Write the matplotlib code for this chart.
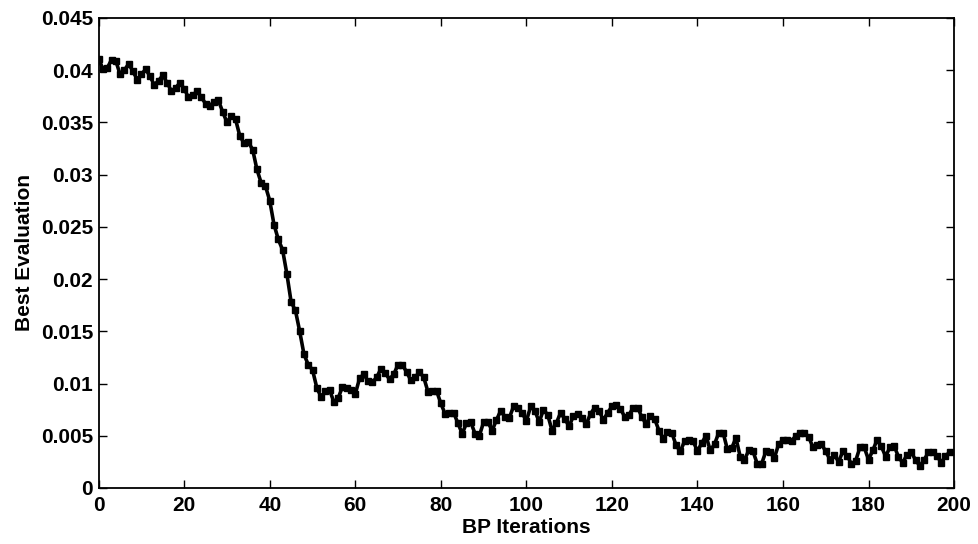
import matplotlib
matplotlib.use("Agg")
import matplotlib.pyplot as plt
from matplotlib.ticker import FormatStrFormatter, MultipleLocator

# best evaluation per BP iteration
best_eval = [
    0.0411, 0.0401, 0.0402, 0.0410, 0.0409, 0.0396, 0.0400, 0.0406, 0.0399, 0.0391,
    0.0396, 0.0401, 0.0394, 0.0386, 0.0390, 0.0395, 0.0388, 0.0380, 0.0383, 0.0388,
    0.0382, 0.0374, 0.0376, 0.0380, 0.0374, 0.0368, 0.0366, 0.0370, 0.0371, 0.0360,
    0.0350, 0.0356, 0.0353, 0.0337, 0.0330, 0.0331, 0.0324, 0.0305, 0.0292, 0.0289,
    0.0275, 0.0252, 0.0238, 0.0228, 0.0205, 0.0178, 0.0170, 0.0150, 0.0128, 0.0118,
    0.0113, 0.0096, 0.0087, 0.0093, 0.0094, 0.0082, 0.0086, 0.0097, 0.0096, 0.0094,
    0.0090, 0.0105, 0.0109, 0.0102, 0.0101, 0.0106, 0.0114, 0.0110, 0.0104, 0.0109,
    0.0118, 0.0118, 0.0111, 0.0103, 0.0106, 0.0111, 0.0106, 0.0092, 0.0093, 0.0093,
    0.0081, 0.0071, 0.0072, 0.0072, 0.0062, 0.0052, 0.0062, 0.0063, 0.0052, 0.0050,
    0.0063, 0.0063, 0.0055, 0.0065, 0.0074, 0.0068, 0.0067, 0.0078, 0.0077, 0.0072,
    0.0064, 0.0078, 0.0074, 0.0063, 0.0075, 0.0070, 0.0055, 0.0062, 0.0072, 0.0066,
    0.0059, 0.0069, 0.0071, 0.0067, 0.0061, 0.0071, 0.0077, 0.0074, 0.0065, 0.0072,
    0.0078, 0.0079, 0.0076, 0.0068, 0.0070, 0.0077, 0.0077, 0.0068, 0.0061, 0.0069,
    0.0066, 0.0055, 0.0047, 0.0054, 0.0053, 0.0041, 0.0035, 0.0045, 0.0046, 0.0045,
    0.0035, 0.0043, 0.0050, 0.0036, 0.0042, 0.0053, 0.0053, 0.0037, 0.0038, 0.0048,
    0.0030, 0.0027, 0.0036, 0.0035, 0.0023, 0.0023, 0.0035, 0.0034, 0.0029, 0.0042,
    0.0046, 0.0046, 0.0045, 0.0050, 0.0053, 0.0053, 0.0049, 0.0039, 0.0041, 0.0042,
    0.0035, 0.0027, 0.0032, 0.0025, 0.0035, 0.0031, 0.0023, 0.0026, 0.0039, 0.0039,
    0.0027, 0.0036, 0.0046, 0.0040, 0.0030, 0.0039, 0.0040, 0.0030, 0.0024, 0.0032,
    0.0034, 0.0027, 0.0021, 0.0027, 0.0034, 0.0034, 0.0031, 0.0024, 0.0031, 0.0034,
]
iterations = list(range(len(best_eval)))

plt.rcParams['font.family'] = ['Liberation Sans', 'DejaVu Sans']
plt.rcParams['font.weight'] = 'bold'

fig = plt.figure(figsize=(9.79, 5.44), dpi=100)
ax = fig.add_axes([0.1008, 0.103, 0.8737, 0.864])

ax.plot(iterations, best_eval, color='black', linewidth=2.6,
        marker='s', markersize=4.2)

ax.set_xlim(0, 200)
ax.set_ylim(0, 0.045)
ax.xaxis.set_major_locator(MultipleLocator(20))
ax.yaxis.set_major_locator(MultipleLocator(0.005))
ax.yaxis.set_major_formatter(FormatStrFormatter('%g'))

ax.tick_params(direction='in', length=6, width=1, top=True, right=True,
               labelsize=15)
ax.tick_params(axis='x', pad=6)
ax.tick_params(axis='y', pad=4)
for lbl in ax.get_xticklabels() + ax.get_yticklabels():
    lbl.set_fontweight('bold')
for sp in ax.spines.values():
    sp.set_linewidth(1.3)

ax.set_xlabel('BP Iterations', fontsize=15, fontweight='bold', labelpad=2)
ax.set_ylabel('Best Evaluation', fontsize=15, fontweight='bold', labelpad=5)

fig.savefig('out.png', dpi=100)
